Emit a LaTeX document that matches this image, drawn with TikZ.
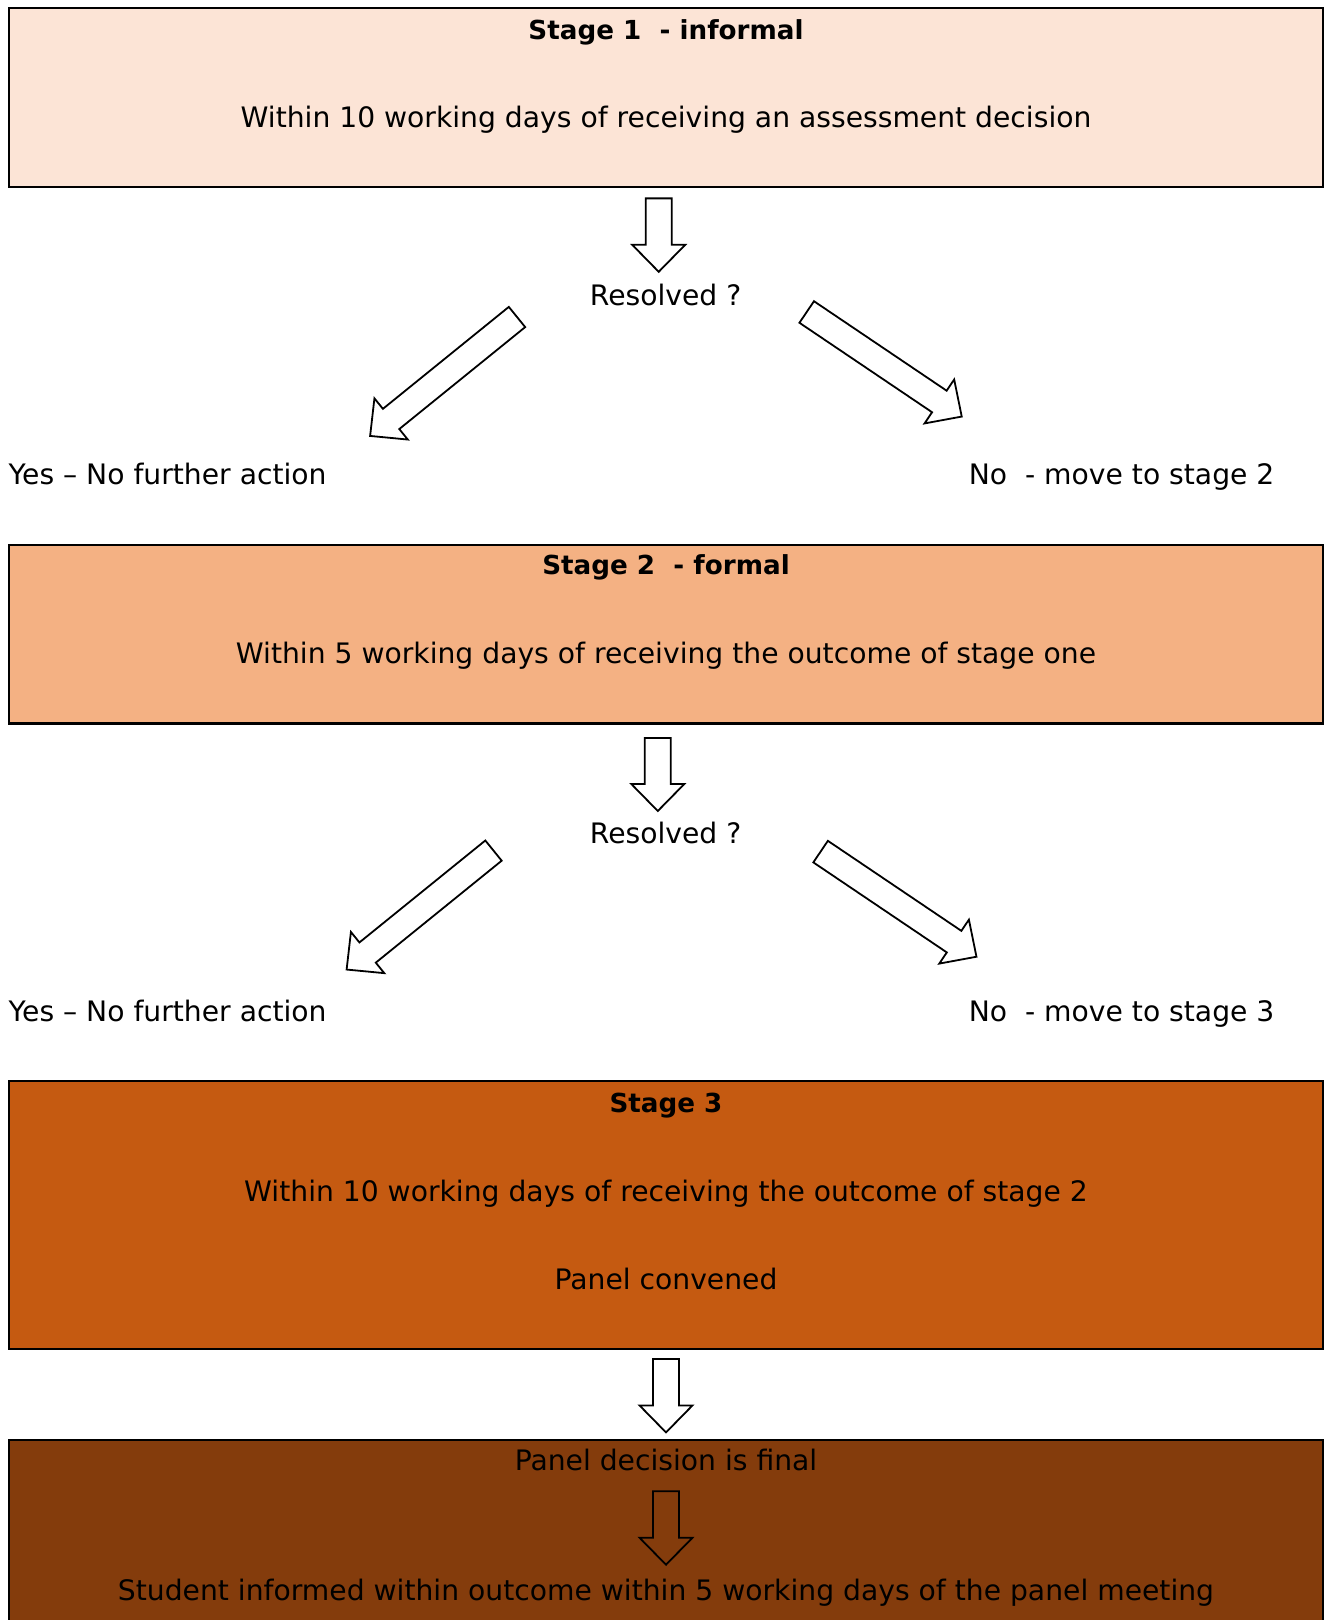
\documentclass[tikz,border=0pt]{standalone}
\usepackage{fontspec}
\setmainfont{DejaVu Sans}
\definecolor{stageone}{HTML}{FCE4D6}
\definecolor{stagetwo}{HTML}{F4B183}
\definecolor{stagethree}{HTML}{C55A11}
\definecolor{stagefour}{HTML}{843C0C}
\begin{document}
\begin{tikzpicture}[x=0.5pt,y=-0.5pt,
  box/.style={draw,line width=1.1pt,minimum width=656.85pt,inner sep=0pt},
  txt/.style={font=\fontsize{14.1}{17}\selectfont,inner sep=0pt,text height=0.95em,text depth=0.23em,yshift=-1.6pt},
  hd/.style={font=\fontsize{13.1}{17}\selectfont\bfseries,inner sep=0pt,text height=0.95em,text depth=0.23em,yshift=-1.6pt},
  blockarrow/.pic={\draw[line width=0.9pt](0,-13)--(#1-27,-13)--(#1-27,-26.5)--(#1,0)--(#1-27,26.5)--(#1-27,13)--(0,13)--cycle;}]
\useasboundingbox (0,0) rectangle (1325,1620);
\clip (0,0) rectangle (1325,1620);
% stage 1
\node[box,fill=stageone,minimum height=89.4pt] (s1) at (666.2,97.7) {};
\node[hd] (t1) at (666,29) {Stage 1~ - informal};
\node[txt] (b1) at (666,117) {Within 10 working days of receiving an assessment decision};
\pic[rotate=-90] at (658.7,198.4) {blockarrow=73.4};
\node[txt] (r1) at (665.6,295.6) {Resolved ?};
\pic[rotate=219] at (517,317) {blockarrow=189};
\pic[rotate=-34] at (806.7,312) {blockarrow=187};
\node[txt,anchor=west] (y1) at (8.3,474.4) {Yes – No further action};
\node[txt,anchor=west] (n1) at (968.4,474.4) {No~ - move to stage 2};
% stage 2
\node[box,fill=stagetwo,minimum height=89.4pt] (s2) at (666.2,634.1) {};
\node[hd] (t2) at (666,564.3) {Stage 2~ - formal};
\node[txt] (b2) at (666,653.2) {Within 5 working days of receiving the outcome of stage one};
\pic[rotate=-90] at (657.8,738) {blockarrow=73};
\node[txt] (r2) at (665.6,833) {Resolved ?};
\pic[rotate=219] at (493.5,850.6) {blockarrow=189};
\pic[rotate=-34] at (820.6,851.6) {blockarrow=188};
\node[txt,anchor=west] (y2) at (8.3,1010.8) {Yes – No further action};
\node[txt,anchor=west] (n2) at (968.4,1010.8) {No~ - move to stage 3};
% stage 3
\node[box,fill=stagethree,minimum height=133.85pt] (s3) at (666.2,1214.85) {};
\node[hd] (t3) at (666,1101.7) {Stage 3};
\node[txt] (b3) at (666,1190.6) {Within 10 working days of receiving the outcome of stage 2};
\node[txt] (p3) at (666,1279.5) {Panel convened};
\pic[rotate=-90] at (666,1359) {blockarrow=73.4};
% final
\node[box,fill=stagefour,minimum height=110.15pt] (s4) at (666.2,1549.85) {};
\node[txt] (f1) at (666,1460.3) {Panel decision is final};
\pic[rotate=-90] at (666,1491.3) {blockarrow=73.4};
\node[txt] (f2) at (666,1590.5) {Student informed within outcome within 5 working days of the panel meeting};
\end{tikzpicture}
\end{document}
